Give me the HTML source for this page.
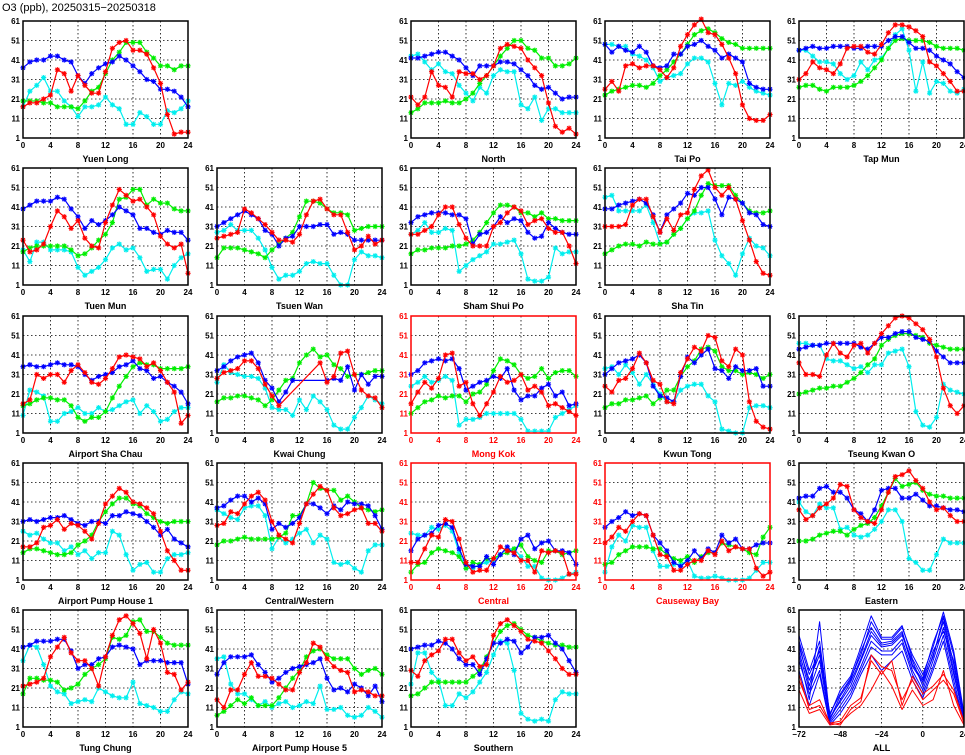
<!DOCTYPE html>
<html><head><meta charset="utf-8"><style>
html,body{margin:0;padding:0;background:#fff;}
svg{display:block;font-family:"Liberation Sans","DejaVu Sans",sans-serif;}
</style></head><body>
<svg id="c" width="965" height="755">
<text x="2" y="11" font-size="11">O3 (ppb), 20250315−20250318</text>
</svg>
<script>
const hours=[0,1,2,3,4,5,6,7,8,9,10,11,12,13,14,15,16,17,18,19,20,21,22,23,24];
const yTicks=[1,11,21,31,41,51,61];
const xTicks=[0,4,8,12,16,20,24];
const allTimes=[-72,-66,-60,-54,-48,-42,-36,-30,-24,-18,-12,-6,0,6,12,18,24];
const allXTicks=[-72,-48,-24,0,24];
const n=null;
const stations=[
{name:"Yuen Long",r:0,c:0,
red:[17,19,19,21,23,36,34,25,33,28,24,24,35,47,50,51,46,46,44,37,29,13,3,4,4],
green:[20,20,20,19,19,17,17,17,16,20,25,27,34,41,45,50,50,50,45,42,38,38,36,38,38],
blue:[37,40,41,41,43,43,41,40,33,29,34,37,39,40,43,41,38,35,31,30,26,26,25,22,17],
cyan:[17,25,28,32,25,25,20,17,12,17,17,18,22,18,16,8,8,14,12,8,8,15,14,16,20]},
{name:"North",r:0,c:2,
red:[22,18,22,35,28,27,22,35,34,34,31,33,38,47,49,48,47,41,37,33,19,7,4,6,3],
green:[14,16,19,19,19,20,19,19,21,24,29,33,38,43,47,51,51,47,46,42,42,38,38,39,42],
blue:[42,42,43,44,45,45,43,41,37,33,38,38,38,40,40,39,36,33,28,26,27,24,21,22,22],
cyan:[43,44,40,36,39,35,34,28,24,20,27,24,33,36,35,35,18,16,22,10,16,16,14,14,14]},
{name:"Tai Po",r:0,c:3,
red:[26,30,25,38,39,37,38,38,36,32,37,48,54,59,62,55,54,49,42,34,18,11,10,10,13],
green:[23,25,26,27,28,28,27,29,33,36,40,44,49,54,56,57,55,52,50,49,47,47,47,47,47],
blue:[49,45,48,46,45,48,45,38,37,38,44,44,48,49,51,48,46,42,44,42,40,29,27,26,26],
cyan:[49,49,48,48,44,43,41,37,30,32,33,34,39,42,42,40,29,18,29,28,30,27,25,24,23]},
{name:"Tap Mun",r:0,c:4,
red:[31,34,40,37,36,34,39,47,48,48,45,44,49,55,59,59,58,56,53,40,38,34,30,25,25],
green:[27,28,28,26,25,27,27,27,28,30,33,37,41,47,51,52,51,51,51,50,48,47,47,47,46],
blue:[46,47,48,47,47,48,48,48,47,47,48,48,48,51,53,53,50,47,47,46,43,41,39,35,32],
cyan:[46,46,43,40,40,39,34,31,33,40,36,41,42,47,54,57,46,25,40,24,30,29,25,24,26]},
{name:"Tuen Mun",r:1,c:0,
red:[24,18,19,22,31,39,36,30,34,25,21,20,33,42,50,47,44,45,41,37,26,22,20,22,7],
green:[18,20,21,21,21,21,21,19,16,17,20,24,27,33,45,46,50,50,42,45,43,43,40,39,39],
blue:[40,42,44,44,44,46,45,40,36,30,34,32,34,37,41,39,37,30,30,28,27,29,28,28,24],
cyan:[19,13,23,23,19,19,19,18,10,6,8,10,14,20,22,19,20,15,8,9,9,4,11,15,17]},
{name:"Tsuen Wan",r:1,c:1,
red:[25,26,27,28,40,38,35,32,28,24,24,23,27,37,44,45,40,37,37,28,19,21,26,22,24],
green:[15,20,20,20,19,18,17,15,19,22,25,28,36,44,44,43,40,38,38,37,29,30,31,31,31],
blue:[31,33,35,37,39,37,35,29,27,21,25,26,31,31,31,32,32,27,28,27,24,24,24,24,24],
cyan:[28,29,32,29,29,29,25,19,10,4,6,6,8,12,13,12,12,6,1,1,14,18,16,16,15]},
{name:"Sham Shui Po",r:1,c:2,
red:[27,27,29,31,37,41,41,32,25,21,21,21,31,33,38,41,39,32,34,35,30,28,28,21,12],
green:[17,19,19,20,20,20,21,21,22,24,28,33,38,42,42,41,38,38,36,38,35,35,34,34,34],
blue:[33,36,37,38,38,38,37,37,35,22,27,28,31,36,33,35,34,28,25,26,33,30,28,27,27],
cyan:[27,29,33,28,28,30,29,8,11,14,16,18,22,22,23,24,17,4,3,3,5,20,17,18,18]},
{name:"Sha Tin",r:1,c:3,
red:[31,31,31,32,42,45,45,36,28,35,29,37,38,50,57,60,51,47,51,45,34,24,13,7,6],
green:[17,19,21,22,22,21,23,22,22,23,27,30,35,39,47,53,52,52,52,47,43,39,38,38,39],
blue:[40,40,42,43,44,45,43,37,28,37,40,43,48,47,51,51,45,37,46,45,43,38,37,32,31],
cyan:[46,47,39,39,39,39,42,33,22,23,27,30,35,38,38,39,24,16,12,6,17,25,21,20,16]},
{name:"Airport Sha Chau",r:2,c:0,
red:[16,18,31,29,31,31,27,33,36,32,27,26,29,34,40,41,40,39,35,37,33,27,22,6,10],
green:[15,16,18,19,19,18,18,15,9,7,9,9,12,19,25,30,35,37,36,36,34,34,34,34,35],
blue:[35,36,35,35,36,37,36,36,35,31,28,30,31,32,35,36,38,34,33,29,30,27,25,22,16],
cyan:[10,23,22,20,7,7,11,12,14,11,11,14,12,13,15,17,18,11,15,12,7,8,12,14,14]},
{name:"Kwai Chung",r:2,c:1,
red:[29,32,33,34,38,38,34,26,20,15,n,n,n,n,n,37,27,30,42,43,31,23,20,19,14],
green:[17,19,19,20,20,19,18,15,18,23,28,29,37,41,44,40,41,36,34,30,31,31,32,33,33],
blue:[33,35,38,40,41,42,37,28,24,17,22,28,n,n,n,n,28,29,28,35,23,31,26,30,30],
cyan:[27,36,32,31,30,30,29,24,14,13,13,10,18,13,20,17,13,5,3,3,9,14,20,18,16]},
{name:"Mong Kok",r:2,c:2,hl:true,
red:[16,22,27,24,29,41,42,25,27,16,10,16,22,30,27,28,31,23,25,22,15,16,14,12,10],
green:[11,14,17,18,20,19,20,20,17,21,22,26,33,39,38,36,31,29,30,34,29,32,33,33,30],
blue:[31,33,37,38,39,38,39,34,23,25,27,28,30,29,34,23,18,20,20,24,26,20,22,15,16],
cyan:[25,27,30,27,28,30,28,5,8,8,9,11,11,11,11,11,8,2,2,2,2,9,11,13,15]},
{name:"Kwun Tong",r:2,c:3,
red:[25,22,28,29,34,42,37,28,26,17,16,32,39,45,43,51,50,38,35,44,41,17,7,4,3],
green:[14,16,16,18,18,19,20,16,19,23,23,30,35,38,44,45,43,35,33,33,31,32,31,29,31],
blue:[31,34,37,38,39,41,37,25,20,19,17,30,40,37,41,44,34,33,29,35,33,33,34,25,25],
cyan:[34,35,31,36,32,26,31,26,21,17,17,23,25,26,26,20,17,3,2,1,1,14,15,15,14]},
{name:"Tseung Kwan O",r:2,c:4,
red:[37,31,31,30,41,47,42,40,46,47,42,47,52,56,60,61,60,57,54,49,40,24,15,11,15],
green:[21,22,23,24,24,25,25,27,29,32,36,39,46,49,51,52,52,51,50,47,46,45,44,44,44],
blue:[44,45,46,46,47,47,47,47,47,45,44,47,50,50,52,53,53,50,49,48,43,40,37,37,37],
cyan:[47,47,46,46,39,38,38,36,34,35,32,36,36,42,43,44,35,12,5,4,9,26,23,22,21]},
{name:"Airport Pump House 1",r:3,c:0,
red:[18,18,20,28,29,32,27,30,29,26,22,30,40,44,48,46,41,40,38,35,26,16,11,6,6],
green:[15,17,17,16,15,14,14,15,19,21,24,31,36,40,43,43,40,39,35,33,31,30,31,31,31],
blue:[31,32,31,32,33,33,34,32,30,29,31,31,30,34,34,36,35,34,31,28,24,27,22,20,18],
cyan:[26,24,25,22,20,20,16,18,14,16,12,15,15,26,24,14,6,9,10,5,5,12,14,14,15]},
{name:"Central/Western",r:3,c:1,
red:[29,30,36,35,40,44,46,42,31,24,22,20,30,40,45,49,47,38,34,35,37,38,30,30,26],
green:[19,21,21,22,23,22,22,22,22,23,25,34,34,40,51,48,47,47,42,44,41,38,37,36,37],
blue:[38,39,42,44,44,41,43,40,27,30,28,30,33,40,40,38,35,39,37,41,40,40,39,34,27],
cyan:[37,35,33,32,38,39,39,34,17,23,20,22,25,27,20,24,22,10,9,10,7,5,16,19,19]},
{name:"Central",r:3,c:2,hl:true,
red:[10,10,17,24,23,32,31,22,10,5,6,6,12,18,16,15,11,11,5,16,15,16,15,4,4],
green:[5,9,10,15,17,16,15,13,7,10,9,12,12,14,15,17,19,13,11,10,16,16,14,15,16],
blue:[16,22,24,25,29,30,28,17,9,8,8,13,9,14,18,14,22,24,17,20,21,16,16,15,9],
cyan:[25,24,24,28,27,29,26,15,7,7,9,10,11,14,17,17,13,8,8,2,1,1,2,4,5]},
{name:"Causeway Bay",r:3,c:3,hl:true,
red:[20,23,28,26,31,35,34,24,14,13,6,6,9,11,11,16,14,21,16,18,17,17,7,3,5],
green:[9,10,14,16,18,18,18,17,17,14,12,11,13,10,13,15,15,20,19,18,17,15,14,23,28],
blue:[28,31,33,36,34,35,34,24,20,16,10,8,11,16,12,17,15,24,20,22,17,17,19,20,20],
cyan:[5,18,24,21,29,28,28,16,8,8,9,9,11,3,2,2,3,2,1,1,1,2,6,10,10]},
{name:"Eastern",r:3,c:4,
red:[37,32,34,38,40,43,50,49,37,33,31,30,37,46,54,55,57,52,48,41,37,38,34,31,31],
green:[21,21,22,24,25,26,26,24,27,29,30,33,39,46,53,49,50,51,47,45,44,44,43,43,43],
blue:[43,44,44,48,49,46,46,43,37,35,31,37,47,48,48,43,43,45,42,39,39,38,37,37,36],
cyan:[41,36,34,40,38,38,27,28,24,23,24,27,31,37,37,31,12,10,6,6,14,22,20,20,20]},
{name:"Tung Chung",r:4,c:0,
red:[22,23,24,26,37,42,47,39,35,35,31,22,37,48,56,58,54,49,36,51,44,29,28,20,24],
green:[18,26,26,25,25,24,20,21,23,28,31,33,36,47,46,48,55,56,50,50,47,44,43,43,43],
blue:[42,43,45,45,45,46,46,40,31,33,33,36,37,42,43,42,41,33,35,35,35,34,34,34,23],
cyan:[35,43,42,33,22,19,18,13,14,15,14,21,19,17,16,16,24,13,12,11,9,9,15,19,18]},
{name:"Airport Pump House 5",r:4,c:1,
red:[15,11,20,20,28,34,27,27,26,23,20,20,29,34,44,42,36,32,30,29,19,20,19,17,17],
green:[7,9,12,15,13,16,12,12,12,16,21,26,30,37,40,41,38,36,36,36,31,28,30,31,28],
blue:[28,34,37,37,37,38,33,29,24,26,29,31,32,33,34,36,26,20,21,19,23,21,17,22,14],
cyan:[36,37,23,18,18,15,12,14,11,13,14,11,12,14,13,22,10,10,11,7,6,7,11,9,6]},
{name:"Southern",r:4,c:2,
red:[30,27,35,38,40,46,46,39,35,37,32,33,48,54,56,53,50,46,45,44,40,36,31,28,28],
green:[17,18,21,24,24,24,24,24,24,27,30,37,44,50,53,54,51,48,47,45,44,43,43,42,42],
blue:[41,42,43,43,45,44,41,36,33,33,28,36,44,44,46,45,39,42,47,47,48,44,41,35,29],
cyan:[23,39,39,29,25,12,12,18,16,19,24,29,38,45,44,30,8,5,4,5,4,15,19,18,18]}
];
const allBlue=[
[48,30,45,5,17,25,40,52,44,45,50,33,25,40,50,35,5],
[42,25,38,6,14,22,35,48,42,43,48,35,22,38,55,30,4],
[40,20,35,4,12,20,32,45,40,40,46,30,20,35,52,28,6],
[45,28,40,8,18,26,38,55,46,46,52,38,28,42,60,40,8],
[35,18,30,3,10,18,30,42,38,38,44,28,18,32,48,25,3],
[38,15,55,5,15,24,36,50,43,44,49,32,24,37,57,33,5],
[30,12,28,2,8,16,28,38,30,35,40,25,16,30,45,22,3],
[44,22,42,7,20,27,42,58,47,47,53,36,26,44,58,38,7]];
const allRed=[
[25,12,15,3,2,10,14,38,32,30,15,25,15,20,25,18,3],
[20,8,10,2,3,8,12,20,30,22,10,20,12,15,30,12,2],
[28,10,12,3,4,12,16,35,28,35,12,27,18,22,28,20,4]];

const NS="http://www.w3.org/2000/svg";
const svg=document.getElementById('c');
const COLORS={red:"#ff0000",green:"#00ee00",blue:"#0000ff",cyan:"#00eeee"};
const PW=165,PH=117;
const rowTops=[21,168,316,463,610];
function mk(tag,attrs,parent){const e=document.createElementNS(NS,tag);for(const k in attrs)e.setAttribute(k,attrs[k]);(parent||svg).appendChild(e);return e;}

function panel(name,left,top,hl,xMin,xMax,xt,drawFn){
  const g=mk('g',{});
  
  
  const ink=hl?"#ff0000":"#000";
  const sx=v=>left+(v-xMin)/(xMax-xMin)*PW;
  const sy=v=>top+PH-(v-1)/60*PH;
  // grid
  yTicks.forEach((t,i)=>{
    if(i>0&&i<yTicks.length-1){const l=mk('line',{x1:left,x2:left+PW,y1:sy(t),y2:sy(t),stroke:"#000","stroke-width":0.8,"stroke-dasharray":"1.5,2.5"},g);}
    const tx=mk('text',{x:left-3,y:sy(t)+3,"font-size":8,"font-weight":"bold","text-anchor":"end",fill:ink},g);
    
    tx.textContent=t;
  });
  xt.forEach((t,i)=>{
    if(t!==xMin&&t!==xMax){const l=mk('line',{x1:sx(t),x2:sx(t),y1:top,y2:top+PH,stroke:"#000","stroke-width":0.8,"stroke-dasharray":"1.5,2.5"},g);}
    const tx=mk('text',{x:sx(t),y:top+PH+10,"font-size":8,"font-weight":"bold","text-anchor":"middle",fill:ink},g);
    
    tx.textContent=(t<0?"−"+(-t):t);
  });
  drawFn(g,sx,sy);
  const fr=mk('rect',{x:left,y:top,width:PW,height:PH,fill:"none",stroke:ink,"stroke-width":1.5},g);
  
  const ti=mk('text',{x:left+PW/2,y:top+PH+24,"font-size":9,"font-weight":"bold","text-anchor":"middle",fill:ink},g);
  
  ti.textContent=name;
}
function series(g,xs,vals,col,sx,sy,markers,sw){
  let d="";let pen=false;
  vals.forEach((v,i)=>{if(v===null)return;d+=(pen?"L":"M")+sx(xs[i]).toFixed(1)+","+sy(v).toFixed(1);pen=true;});
  const p=mk('path',{d:d,fill:"none",stroke:COLORS[col]||col,"stroke-width":sw||1.2,"stroke-linejoin":"round"},g);
  
  if(!markers)return;
  vals.forEach((v,i)=>{if(v===null)return;
    const x=sx(xs[i]),y=sy(v),r=2.6;
    const m=mk('path',{d:`M${x-r},${y}H${x+r}M${x},${y-r}V${y+r}M${x-r*0.75},${y-r*0.75}L${x+r*0.75},${y+r*0.75}M${x-r*0.75},${y+r*0.75}L${x+r*0.75},${y-r*0.75}`,stroke:COLORS[col],"stroke-width":1.1},g);
    
  });
}
stations.forEach(s=>{
  panel(s.name,23+194*s.c,rowTops[s.r],!!s.hl,0,24,xTicks,(g,sx,sy)=>{
    ["cyan","green","blue","red"].forEach(k=>series(g,hours,s[k],k,sx,sy,true));
  });
});
panel("ALL",799,rowTops[4],false,-72,24,allXTicks,(g,sx,sy)=>{
  allBlue.forEach(a=>series(g,allTimes,a,"blue",sx,sy,false,1));
  allRed.forEach(a=>series(g,allTimes,a,"red",sx,sy,false,1));
});
</script>
</body></html>
